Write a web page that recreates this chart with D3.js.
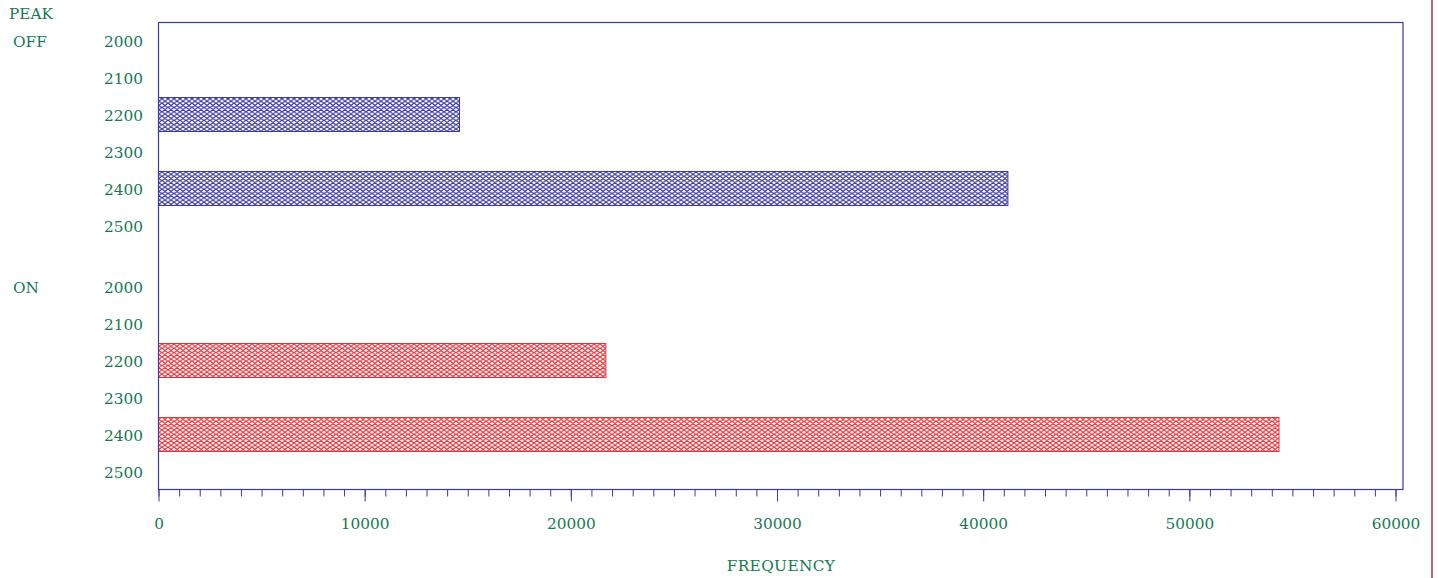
<!DOCTYPE html>
<html>
<head>
<meta charset="utf-8">
<script src="https://cdn.jsdelivr.net/npm/d3@7"></script>
<style>
  body { margin: 0; background: #fff; }
  text { font-family: "DejaVu Serif", serif; fill: #137a50; }
</style>
</head>
<body>
<svg id="chart" width="1438" height="578"></svg>
<script>
// data
const peakGroups = ["OFF", "ON"];
const frequencies = ["2000", "2100", "2200", "2300", "2400", "2500"];
const offValues = [0, 0, 14600, 0, 41200, 0];
const onValues = [0, 0, 21700, 0, 54350, 0];
const xTicks = [0, 10000, 20000, 30000, 40000, 50000, 60000];

const navy = "#3a3aa6",
    red = "#e8333a",
    green = "#137a50";
const fontSize = 15.3;

const svg = d3.select("#chart");

const x = d3.scaleLinear().domain([0, 60000]).range([158.5, 1395.5]);
const groupY = d3.scaleOrdinal().domain(peakGroups).range([41, 287]);
const innerY = d3.scalePoint().domain(frequencies).range([0, 185]);
const barH = 34;

// crosshatch patterns
const defs = svg.append("defs");
const makePattern = (id, color) => {
    const p = defs
        .append("pattern")
        .attr("id", id)
        .attr("patternUnits", "userSpaceOnUse")
        .attr("width", 6)
        .attr("height", 4.3);
    p.append("rect").attr("width", 6).attr("height", 4.3).attr("fill", "#fff");
    p.append("path")
        .attr("d", "M0,0L6,4.3M0,4.3L6,0M-3,2.15L0,4.3M-3,2.15L0,0M6,0L9,2.15M6,4.3L9,2.15")
        .attr("stroke", color)
        .attr("stroke-width", 1.15)
        .attr("fill", "none");
};
makePattern("hatchOff", navy);
makePattern("hatchOn", red);

const rows = [];
frequencies.forEach((f, i) => {
    rows.push({ group: "OFF", freq: f, value: offValues[i] });
});
frequencies.forEach((f, i) => {
    rows.push({ group: "ON", freq: f, value: onValues[i] });
});
const yPos = (d) => groupY(d.group) + innerY(d.freq);

// right border line of the page
svg.append("line")
    .attr("x1", 1432).attr("x2", 1432)
    .attr("y1", 0).attr("y2", 578)
    .attr("stroke", "#9c3b3b")
    .attr("stroke-width", 1.5);

// bars
svg.append("g")
    .selectAll("rect")
    .data(rows.filter((d) => d.value > 0))
    .join("rect")
    .attr("x", x(0))
    .attr("y", (d) => yPos(d) - barH / 2 - 0.5)
    .attr("width", (d) => x(d.value) - x(0))
    .attr("height", barH)
    .attr("fill", (d) => (d.group === "OFF" ? "url(#hatchOff)" : "url(#hatchOn)"))
    .attr("stroke", (d) => (d.group === "OFF" ? navy : red))
    .attr("stroke-width", 1);

// frame
svg.append("rect")
    .attr("x", 158.5)
    .attr("y", 22.5)
    .attr("width", 1403 - 158.5)
    .attr("height", 489.5 - 22.5)
    .attr("fill", "none")
    .attr("stroke", navy)
    .attr("stroke-width", 1.2);

// minor ticks
svg.append("g")
    .attr("transform", "translate(0,489.5)")
    .call(d3.axisBottom(x).tickValues(d3.range(0, 60001, 1000)).tickSize(7).tickFormat(""))
    .call((g) => g.select(".domain").remove())
    .call((g) => g.selectAll("line").attr("stroke", navy));

// major ticks + labels
svg.append("g")
    .attr("transform", "translate(0,489.5)")
    .call(d3.axisBottom(x).tickValues(xTicks).tickSize(12).tickPadding(16.5).tickFormat(d3.format("d")))
    .call((g) => g.select(".domain").remove())
    .call((g) => g.selectAll("line").attr("stroke", navy))
    .call((g) =>
        g.selectAll("text")
            .attr("font-family", "DejaVu Serif")
            .attr("font-size", fontSize)
            .attr("fill", green)
    );

// category labels
svg.append("g")
    .selectAll("text")
    .data(rows)
    .join("text")
    .attr("x", 143)
    .attr("y", yPos)
    .attr("dy", "0.36em")
    .attr("text-anchor", "end")
    .attr("font-size", fontSize)
    .text((d) => d.freq);

svg.append("text")
    .attr("x", 9)
    .attr("y", 13)
    .attr("dy", "0.36em")
    .attr("font-size", fontSize)
    .text("PEAK");

svg.selectAll(".grpLabel")
    .data(peakGroups)
    .join("text")
    .attr("class", "grpLabel")
    .attr("x", 13)
    .attr("y", (d) => groupY(d))
    .attr("dy", "0.36em")
    .attr("font-size", fontSize)
    .text((d) => d);

svg.append("text")
    .attr("x", 781)
    .attr("y", 565)
    .attr("dy", "0.36em")
    .attr("text-anchor", "middle")
    .attr("font-size", fontSize)
    .attr("letter-spacing", 0.4)
    .text("FREQUENCY");
</script>
</body>
</html>
